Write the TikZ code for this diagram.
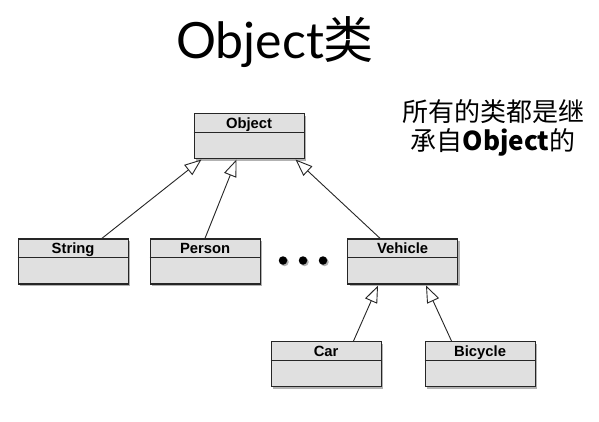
\documentclass[tikz,border=0pt]{standalone}
\usepackage{fontspec}
\setmainfont{Liberation Sans}
\newfontfamily\titlefont{Lato}
\newfontfamily\cjk{Noto Sans CJK SC}
\usetikzlibrary{arrows.meta,shadows,calc}
\begin{document}
\begin{tikzpicture}[x=1pt,y=-1pt]
\useasboundingbox[fill=white] (0,0) rectangle (599,422);
\tikzset{
  cls/.style={draw=black!85, line width=1.2pt, fill=black!12,
    minimum width=110pt, minimum height=45pt, inner sep=0pt, anchor=north west,
    drop shadow={shadow xshift=2pt, shadow yshift=-2pt, fill=black, opacity=0.3}},
  divider/.style={draw=black!85, line width=1.2pt},
  lbl/.style={font=\bfseries\fontsize{14.8}{16}\selectfont, anchor=base, inner sep=0pt},
  inherit/.style={line width=0.9pt, draw=black!85,
    -{Triangle[length=17pt, width=13pt, fill=white, line width=0.9pt]}},
  dotnode/.style={circle, fill=black, minimum size=8.5pt, inner sep=0pt,
    drop shadow={shadow xshift=1.5pt, shadow yshift=-1.5pt, fill=black, opacity=0.3}}
}
% title
\node[anchor=base, inner sep=0pt] (title) at (275,58.5)
  {\titlefont\fontsize{50}{50}\selectfont Object{\cjk 类}};
% note
\node[align=center, inner sep=0pt, font=\cjk\fontsize{26}{29}\selectfont] (note) at (493,128)
  {所有的类都是继\\承自{\bfseries Object}的};
% classes
\node[cls] (object)  at (193.5,113.3) {};
\node[cls] (string)  at (17.5,238.3) {};
\node[cls] (person)  at (149.5,238.3) {};
\node[cls] (vehicle) at (347,238.3) {};
\node[cls] (car)     at (270.5,341) {};
\node[cls] (bicycle) at (424.5,341) {};
\foreach \n/\t in {object/Object,string/String,person/Person,vehicle/Vehicle,car/Car,bicycle/Bicycle}{
  \draw[divider] ($(\n.north west)+(0,19.5)$) -- ($(\n.north east)+(0,19.5)$);
  \node[lbl] at ($(\n.north)+(0,15)$) {\t};
}
% dots
\node[dotnode] (d1) at (283,260.5) {};
\node[dotnode] (d2) at (303,260.5) {};
\node[dotnode] (d3) at (323,260.5) {};
% connector end points
\coordinate (oA) at ($(object.south west)+(8,0)$);
\coordinate (oB) at ($(object.south west)+(43,0)$);
\coordinate (oC) at ($(object.south west)+(102,0)$);
\coordinate (vA) at ($(vehicle.south west)+(31,1)$);
\coordinate (vB) at ($(vehicle.south west)+(79,1)$);
\coordinate (sT) at ($(string.north west)+(84.5,0)$);
\coordinate (pT) at ($(person.north west)+(55.5,0)$);
\coordinate (veT) at ($(vehicle.north west)+(33,0)$);
\coordinate (cT) at ($(car.north west)+(83,0)$);
\coordinate (bT) at ($(bicycle.north west)+(27,0)$);
\draw[inherit] (sT) -- (oA);
\draw[inherit] (pT) -- (oB);
\draw[inherit] (veT) -- (oC);
\draw[inherit] (cT) -- (vA);
\draw[inherit] (bT) -- (vB);
\end{tikzpicture}
\end{document}
